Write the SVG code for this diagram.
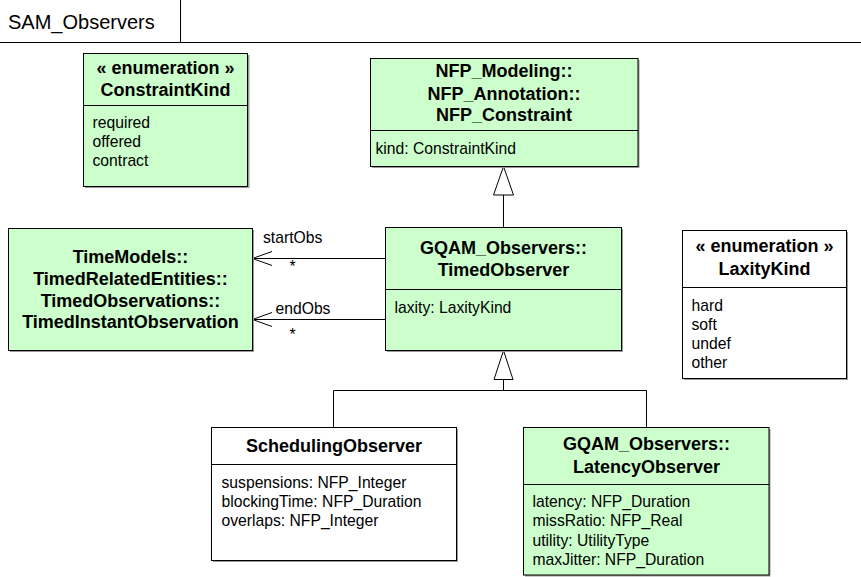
<svg xmlns="http://www.w3.org/2000/svg" width="861" height="577" viewBox="0 0 861 577">
<style>
  .box { stroke: #000; stroke-width: 1; }
  .green { fill: #ccffcc; }
  .white { fill: #ffffff; }
  .shadow { fill: #9a9a9a; }
  .div { stroke: #000; stroke-width: 1; }
  .title { font-family: "Liberation Sans", Arial, sans-serif; font-size: 18px; font-weight: bold; text-anchor: middle; fill: #000; }
  .attr { font-family: "Liberation Sans", Arial, sans-serif; font-size: 15.7px; fill: #000; }
  .lbl { font-family: "Liberation Sans", Arial, sans-serif; font-size: 15.7px; fill: #000; }
  .line { stroke: #000; stroke-width: 1; fill: none; }
  .tri { stroke: #000; stroke-width: 1; fill: #fff; }
</style>

<g id="frame">
  <line class="line" x1="0" y1="42.5" x2="861" y2="42.5"/>
  <line class="line" x1="180.5" y1="0" x2="180.5" y2="42.5"/>
  <text x="8" y="28.5" font-family="Liberation Sans, Arial, sans-serif" font-size="20" fill="#000">SAM_Observers</text>
</g>

<g id="connectors">
  <!-- generalization TimedObserver -> NFP_Constraint -->
  <line class="line" x1="503.5" y1="195" x2="503.5" y2="227.5"/>
  <polygon class="tri" points="503.5,166.5 493.5,195 513.5,195"/>
  <!-- generalization children -> TimedObserver -->
  <polyline class="line" points="333.5,427.5 333.5,390.5 646.5,390.5 646.5,427.5"/>
  <line class="line" x1="503.5" y1="379.5" x2="503.5" y2="390.5"/>
  <polygon class="tri" points="503.5,350.5 494,379.5 513,379.5"/>
  <!-- startObs association -->
  <line class="line" x1="252.5" y1="258.5" x2="385.5" y2="258.5"/>
  <polyline class="line" points="272,251.5 252.5,258.5 272,265.5"/>
  <text class="lbl" x="263" y="243">startObs</text>
  <text class="lbl" x="289.5" y="272">*</text>
  <!-- endObs association -->
  <line class="line" x1="252.5" y1="319.5" x2="385.5" y2="319.5"/>
  <polyline class="line" points="272,312.5 252.5,319.5 272,326.5"/>
  <text class="lbl" x="275.5" y="314">endObs</text>
  <text class="lbl" x="289.5" y="340">*</text>
</g>

<g id="ConstraintKind">
  <rect class="shadow" x="85" y="55" width="164.5" height="133"/>
  <rect class="box green" x="83.5" y="53.5" width="164" height="133"/>
  <line class="div" x1="83.5" y1="105.5" x2="247.5" y2="105.5"/>
  <text class="title" x="165.5" y="74">« enumeration »</text>
  <text class="title" x="165.5" y="96">ConstraintKind</text>
  <text class="attr" x="92.5" y="128">required</text>
  <text class="attr" x="92.5" y="147">offered</text>
  <text class="attr" x="92.5" y="166">contract</text>
</g>

<g id="NFP_Constraint">
  <rect class="shadow" x="372" y="60" width="267.5" height="108"/>
  <rect class="box green" x="370.5" y="58.5" width="267.5" height="108"/>
  <line class="div" x1="370.5" y1="130.5" x2="638" y2="130.5"/>
  <text class="title" x="504" y="77">NFP_Modeling::</text>
  <text class="title" x="504" y="99.5">NFP_Annotation::</text>
  <text class="title" x="504" y="121">NFP_Constraint</text>
  <text class="attr" x="375.5" y="153.5">kind: ConstraintKind</text>
</g>

<g id="TimedInstantObservation">
  <rect class="shadow" x="10" y="230" width="244" height="122"/>
  <rect class="box green" x="8.5" y="228.5" width="244" height="122"/>
  <text class="title" x="130.5" y="262.5">TimeModels::</text>
  <text class="title" x="130.5" y="284.5">TimedRelatedEntities::</text>
  <text class="title" x="130.5" y="306.5">TimedObservations::</text>
  <text class="title" x="130.5" y="328">TimedInstantObservation</text>
</g>

<g id="TimedObserver">
  <rect class="shadow" x="387" y="229" width="236" height="123"/>
  <rect class="box green" x="385.5" y="227.5" width="236" height="123"/>
  <line class="div" x1="385.5" y1="289.5" x2="621.5" y2="289.5"/>
  <text class="title" x="503.5" y="253.5">GQAM_Observers::</text>
  <text class="title" x="503.5" y="275.5">TimedObserver</text>
  <text class="attr" x="394.5" y="313">laxity: LaxityKind</text>
</g>

<g id="LaxityKind">
  <rect class="shadow" x="684" y="232" width="164" height="148"/>
  <rect class="box white" x="682.5" y="230.5" width="164" height="148"/>
  <line class="div" x1="682.5" y1="287.5" x2="846.5" y2="287.5"/>
  <text class="title" x="764.5" y="252">« enumeration »</text>
  <text class="title" x="764.5" y="274.5">LaxityKind</text>
  <text class="attr" x="691.5" y="310.5">hard</text>
  <text class="attr" x="691.5" y="329.5">soft</text>
  <text class="attr" x="691.5" y="348.5">undef</text>
  <text class="attr" x="691.5" y="367.5">other</text>
</g>

<g id="SchedulingObserver">
  <rect class="shadow" x="213" y="429" width="245" height="133"/>
  <rect class="box white" x="211.5" y="427.5" width="245" height="133"/>
  <line class="div" x1="211.5" y1="464.5" x2="456.5" y2="464.5"/>
  <text class="title" x="334" y="452">SchedulingObserver</text>
  <text class="attr" x="221.5" y="487.5">suspensions: NFP_Integer</text>
  <text class="attr" x="221.5" y="506.5">blockingTime: NFP_Duration</text>
  <text class="attr" x="221.5" y="525.5">overlaps: NFP_Integer</text>
</g>

<g id="LatencyObserver">
  <rect class="shadow" x="525" y="429" width="245.5" height="147.5"/>
  <rect class="box green" x="523.5" y="427.5" width="245.5" height="147.5"/>
  <line class="div" x1="523.5" y1="484.5" x2="769" y2="484.5"/>
  <text class="title" x="646.5" y="450">GQAM_Observers::</text>
  <text class="title" x="646.5" y="472.5">LatencyObserver</text>
  <text class="attr" x="532.5" y="506.5">latency: NFP_Duration</text>
  <text class="attr" x="532.5" y="526">missRatio: NFP_Real</text>
  <text class="attr" x="532.5" y="545.5">utility: UtilityType</text>
  <text class="attr" x="532.5" y="565">maxJitter: NFP_Duration</text>
</g>
</svg>
